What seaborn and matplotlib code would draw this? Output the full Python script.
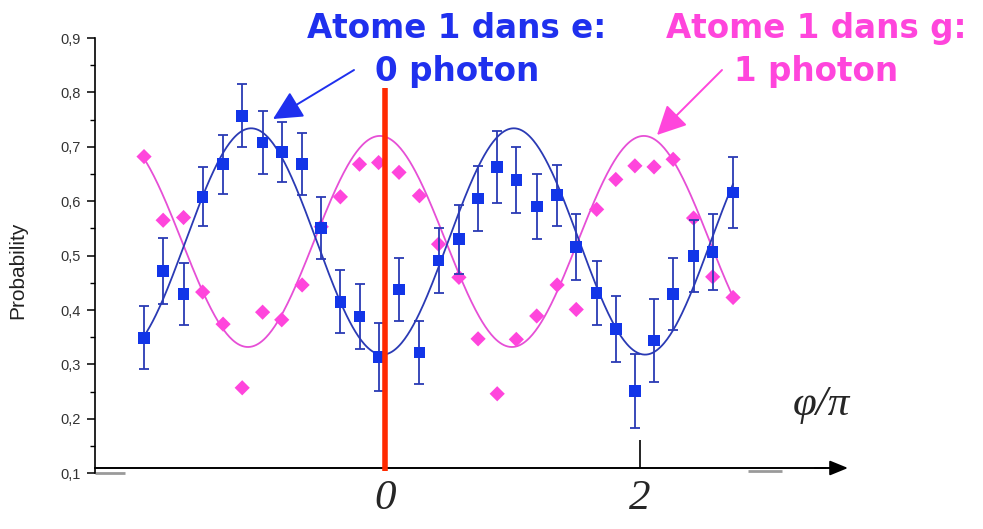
import matplotlib
matplotlib.use("Agg")
import matplotlib.pyplot as plt
import seaborn as sns
import numpy as np
import pandas as pd

# ---------------- data ----------------
phase = [-1.89, -1.74, -1.58, -1.43, -1.27, -1.12, -0.96, -0.81, -0.65, -0.50,
         -0.35, -0.20, -0.05, 0.11, 0.27, 0.42, 0.58, 0.73, 0.88, 1.03,
         1.19, 1.35, 1.50, 1.66, 1.81, 1.96, 2.11, 2.26, 2.42, 2.57, 2.73]
prob_e = [0.349, 0.472, 0.429, 0.608, 0.668, 0.757, 0.708, 0.690, 0.668, 0.551,
          0.415, 0.388, 0.314, 0.438, 0.322, 0.491, 0.530, 0.605, 0.663, 0.639,
          0.590, 0.611, 0.516, 0.431, 0.365, 0.251, 0.344, 0.429, 0.499, 0.507, 0.616]
err_e = [0.058, 0.061, 0.057, 0.054, 0.054, 0.058, 0.058, 0.055, 0.057, 0.057,
         0.058, 0.059, 0.063, 0.058, 0.058, 0.060, 0.063, 0.060, 0.066, 0.061,
         0.060, 0.056, 0.060, 0.059, 0.060, 0.068, 0.077, 0.066, 0.066, 0.070, 0.065]
prob_g = [0.682, 0.565, 0.570, 0.433, 0.374, 0.257, 0.396, 0.382, 0.446, 0.553,
          0.608, 0.668, 0.671, 0.653, 0.610, 0.521, 0.460, 0.347, 0.246, 0.346,
          0.389, 0.446, 0.401, 0.585, 0.640, 0.665, 0.663, 0.677, 0.569, 0.461, 0.423]

# sinusoidal fit parameters (offset, amplitude, period, phase of extremum)
fit_e = dict(offset=0.526, amp=-0.208, period=2.06, x0=-0.02)   # minimum at x0
fit_g = dict(offset=0.526, amp=0.194, period=2.07, x0=-0.04)    # maximum at x0

yticks = [0.1, 0.2, 0.3, 0.4, 0.5, 0.6, 0.7, 0.8, 0.9]
ytick_labels = ["0,1", "0,2", "0,3", "0,4", "0,5", "0,6", "0,7", "0,8", "0,9"]
xticks = [0, 2]
xtick_labels = ["0", "2"]

# ---------------- layout helpers (pixel -> data) ----------------
W, H = 983, 529
def U(px):
    return (px - 385) / 127.5
def V(py):
    return 0.9 - (py - 38) / 544.0

sns.set_style("white")
plt.rcParams["font.family"] = ["Liberation Sans", "DejaVu Sans"]

fig = plt.figure(figsize=(W / 100, H / 100), dpi=100)
ax = fig.add_axes([0, 0, 1, 1])
ax.set_xlim(U(0), U(W))
ax.set_ylim(V(H), V(0))
ax.patch.set_alpha(0)

BLUE_PT = "#1235e8"
BLUE_LN = "#2a3ab4"
PINK = "#ff45dc"
PINK_LN = "#e64fd6"

# fit curves
xf = np.linspace(phase[0], phase[-1], 600)
fe = fit_e["offset"] + fit_e["amp"] * np.cos(2 * np.pi * (xf - fit_e["x0"]) / fit_e["period"])
fg = fit_g["offset"] + fit_g["amp"] * np.cos(2 * np.pi * (xf - fit_g["x0"]) / fit_g["period"])
curves = pd.DataFrame({"x": xf, "e": fe, "g": fg})
sns.lineplot(data=curves, x="x", y="g", ax=ax, color=PINK_LN, lw=1.3, zorder=2)
sns.lineplot(data=curves, x="x", y="e", ax=ax, color=BLUE_LN, lw=1.3, zorder=3)

df = pd.DataFrame({"phase": phase, "e": prob_e, "err": err_e, "g": prob_g})
sns.scatterplot(data=df, x="phase", y="g", ax=ax, marker="D", s=60, color=PINK,
                edgecolor="none", zorder=4)
ax.errorbar(df["phase"], df["e"], yerr=df["err"], fmt="none", ecolor=BLUE_LN,
            elinewidth=1.3, capsize=3.5, capthick=1.3, zorder=5)
sns.scatterplot(data=df, x="phase", y="e", ax=ax, marker="s", s=70, color=BLUE_PT,
                edgecolor="none", zorder=6)

# red line at phase 0
ax.vlines(0, V(471), V(88), color="#ff2a00", lw=4, zorder=10)

# axes styling
for s in ["top", "right"]:
    ax.spines[s].set_visible(False)
ax.spines["left"].set_position(("data", U(95)))
ax.spines["left"].set_bounds(0.1, 0.9)
ax.spines["left"].set_linewidth(1.2)
ax.spines["left"].set_color("black")
ax.spines["bottom"].set_position(("data", V(468)))
ax.spines["bottom"].set_bounds(U(95), U(825))
ax.spines["bottom"].set_linewidth(1.4)
ax.spines["bottom"].set_color("black")

ax.set_yticks(yticks)
ax.set_yticklabels(ytick_labels, fontsize=10.5, color="#333333")
ax.set_yticks(np.arange(0.15, 0.9, 0.1), minor=True)
ax.tick_params(axis="y", which="major", direction="out", length=6, width=1.1,
               color="black", pad=4, left=True)
ax.tick_params(axis="y", which="minor", direction="out", length=3.5, width=1.0,
               color="black", left=True)
ax.set_xticks(xticks)
ax.set_xticklabels(xtick_labels, fontsize=31, fontfamily="Liberation Serif",
                   fontstyle="italic")
ax.tick_params(axis="x", which="major", direction="in", length=20, width=1.2,
               color="black", pad=8, bottom=True)
ax.set_xlabel("")
ax.set_ylabel("Probability", fontsize=15, color="#222222")
ax.yaxis.set_label_coords(27 / W, 1 - 270 / H)

# x-axis arrow head
ax.annotate("", xy=(U(848), V(468)), xytext=(U(815), V(468)),
            arrowprops=dict(arrowstyle="-|>,head_length=1.1,head_width=0.45",
                            color="black", lw=1.4, shrinkA=0, shrinkB=0),
            annotation_clip=False)

# grey remnants of the original frame
ax.hlines(V(473), U(95), U(125), color="#9a9a9a", lw=2)
ax.hlines(V(471), U(748), U(782), color="#9a9a9a", lw=2)

# axis variable label
ax.text(U(821), V(405), "φ/π", fontsize=31, fontfamily="Liberation Serif",
        fontstyle="italic", ha="center", va="center")

# annotations
ax.text(U(457), V(12), "Atome 1 dans e:\n0 photon", color="#1f30ee", fontsize=23.5,
        fontweight="bold", fontfamily="DejaVu Sans", ha="center", va="top",
        linespacing=1.4)
ax.text(U(816), V(12), "Atome 1 dans g:\n1 photon", color="#ff45dc", fontsize=23.5,
        fontweight="bold", fontfamily="DejaVu Sans", ha="center", va="top",
        linespacing=1.4)
ax.annotate("", xy=(U(273), V(119)), xytext=(U(354), V(70)),
            arrowprops=dict(arrowstyle="-|>,head_length=0.9,head_width=0.45",
                            color="#1f30ee", lw=1.4, shrinkA=0, shrinkB=0,
                            mutation_scale=20))
ax.annotate("", xy=(U(657), V(135)), xytext=(U(722), V(70)),
            arrowprops=dict(arrowstyle="-|>,head_length=0.9,head_width=0.45",
                            color="#ff45dc", lw=1.4, shrinkA=0, shrinkB=0,
                            mutation_scale=20))

fig.savefig("out.png", dpi=100)
